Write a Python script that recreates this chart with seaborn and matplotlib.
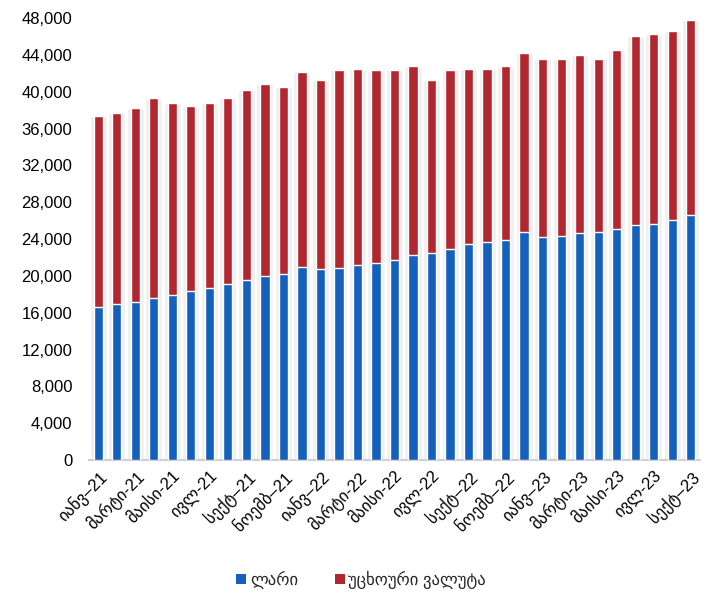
import matplotlib
matplotlib.use("Agg")
import matplotlib.pyplot as plt
import seaborn as sns
import pandas as pd
from matplotlib.ticker import FuncFormatter, MultipleLocator
from matplotlib.patches import Patch

# ---- data ----
months = [f"m{i:02d}" for i in range(33)]  # Jan-21 ... Sep-23
tick_labels = ["იანვ–21", "მარტი-21", "მაისი-21", "ივლ-21", "სექტ–21", "ნოემბ–21",
               "იანვ–22", "მარტი-22", "მაისი-22", "ივლ-22", "სექტ–22", "ნოემბ–22",
               "იანვ–23", "მარტი-23", "მაისი-23", "ივლ-23", "სექტ–23"]
lari = [16650, 16900, 17150, 17550, 17880, 18300, 18700, 19080, 19580, 20000, 20230,
        20950, 20700, 20850, 21150, 21430, 21750, 22220, 22470, 22870, 23450, 23650,
        23900, 24750, 24220, 24330, 24610, 24760, 25050, 25560, 25600, 26030, 26650]
total = [37350, 37650, 38250, 39300, 38820, 38480, 38770, 39270, 40200, 40850, 40560,
         42170, 41300, 42380, 42480, 42320, 42320, 42820, 41300, 42380, 42420, 42420,
         42750, 44250, 43550, 43550, 43950, 43600, 44480, 46000, 46300, 46600, 47750]
foreign = [t - l for t, l in zip(total, lari)]

series_names = ["ლარი", "უცხოური ვალუტა"]
colors = ["#1660bd", "#b1272f"]

df = pd.DataFrame({"month": months, "lari": lari, "total": total, "foreign": foreign})

sns.set_theme(style="white")
plt.rcParams["font.family"] = ["Liberation Sans", "DejaVu Sans"]

fig = plt.figure(figsize=(7.08, 6.05), dpi=100)
ax = fig.add_axes([89 / 708, 1 - 460 / 605, (700 - 89) / 708, (460 - 18) / 605])

# soft shadow behind bars
sns.barplot(data=df, x="month", y="total", color="#f0f0f0", width=0.92, ax=ax,
            saturation=1, errorbar=None, zorder=1)
sns.barplot(data=df, x="month", y="total", color=colors[1], width=0.5, ax=ax,
            saturation=1, errorbar=None, zorder=2)
sns.barplot(data=df, x="month", y="lari", color=colors[0], width=0.5, ax=ax,
            saturation=1, errorbar=None, zorder=3)

ax.set_xlim(-0.5, len(months) - 0.5)
ax.set_ylim(0, 48000)
ax.yaxis.set_major_locator(MultipleLocator(4000))
ax.yaxis.set_major_formatter(FuncFormatter(lambda v, p: f"{int(v):,}"))
ax.set_xticks(range(0, len(months), 2))
ax.set_xticklabels(tick_labels, rotation=45, ha="right", rotation_mode="anchor")
ax.set_xlabel("")
ax.set_ylabel("")
ax.tick_params(axis="y", labelsize=12, length=0, pad=12, colors="#000000")
ax.tick_params(axis="x", labelsize=12, length=0, pad=6, colors="#000000")

for s in ["top", "right", "left"]:
    ax.spines[s].set_visible(False)
ax.spines["bottom"].set_color("#d0d0d0")
ax.spines["bottom"].set_linewidth(1.5)

handles = [Patch(facecolor=c, edgecolor="none") for c in colors]
fig.legend(handles, series_names, loc="center", bbox_to_anchor=(0.51, 1 - 580 / 605),
           ncol=2, frameon=False, fontsize=12, handlelength=0.6, handleheight=0.6,
           handletextpad=0.2, columnspacing=2.2)

fig.savefig("out.png", dpi=100)
